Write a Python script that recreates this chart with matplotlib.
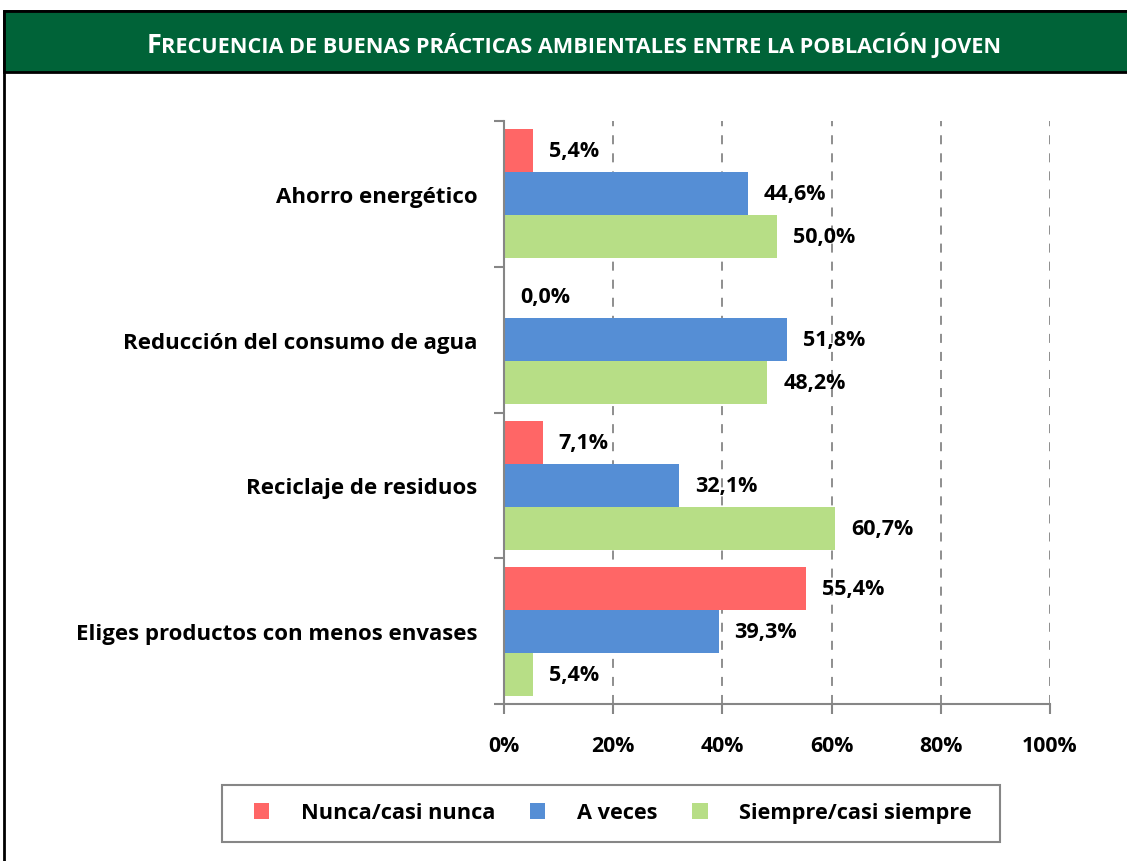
import numpy as np
import matplotlib.pyplot as plt
from matplotlib.patches import Rectangle

plt.rcParams['font.family'] = ['Open Sans', 'DejaVu Sans']

categorias = ["Ahorro energético", "Reducción del consumo de agua",
              "Reciclaje de residuos", "Eliges productos con menos envases"]
nunca = [5.4, 0.0, 7.1, 55.4]
a_veces = [44.6, 51.8, 32.1, 39.3]
siempre = [50.0, 48.2, 60.7, 5.4]
series = ["Nunca/casi nunca", "A veces", "Siempre/casi siempre"]
colores = ["#FF6666", "#558ED5", "#B7DE86"]
xticks = [0, 20, 40, 60, 80, 100]

W, H = 1127, 862
fig = plt.figure(figsize=(W / 100, H / 100), dpi=100)

# marco y banda del titulo
fig.add_artist(Rectangle((4 / W, -0.1), 1.2, 1.1 - 12 / H, transform=fig.transFigure,
                         fill=False, edgecolor="black", linewidth=2))
fig.add_artist(Rectangle((4 / W, 1 - 73 / H), 1.2, 61 / H, transform=fig.transFigure,
                         facecolor="#006338", edgecolor="black", linewidth=2))

ax = fig.add_axes([504 / W, 1 - 705 / H, 546 / W, 583 / H])
y = np.arange(len(categorias))
h = 0.295
for k, (vals, col, lab) in enumerate(zip([nunca, a_veces, siempre], colores, series)):
    pos = y + (k - 1) * h
    ax.barh(pos, vals, height=h, color=col, label=lab, zorder=3)
    for p, v in zip(pos, vals):
        ax.annotate(f"{v:.1f}%".replace(".", ","), (v, p), xytext=(11.5, 0),
                    textcoords="offset points", va="center", ha="left",
                    fontsize=15.5, fontweight="bold", zorder=4)

ax.set_xlim(0, 100)
ax.set_ylim(len(categorias) - 0.5, -0.5)
ax.set_xticks(xticks)
ax.set_xticklabels([f"{t}%" for t in xticks], fontsize=15.3, fontweight="bold")
ax.set_yticks(np.arange(len(categorias) + 1) - 0.5)
ax.set_yticklabels([])
ax.set_yticks(y, minor=True)
ax.set_yticklabels(categorias, minor=True, fontsize=16, fontweight="bold")
ax.tick_params(axis="y", which="minor", length=0, pad=19)
ax.tick_params(axis="y", which="major", length=7, color="#868686", width=1.5)
ax.tick_params(axis="x", length=7, color="#868686", width=1.5, pad=15)
ax.xaxis.grid(True, linestyle=(0, (5, 5)), color="#868686", linewidth=1.3, zorder=0)
for s in ["top", "right"]:
    ax.spines[s].set_visible(False)
for s in ["left", "bottom"]:
    ax.spines[s].set_color("#868686")
    ax.spines[s].set_linewidth(1.5)
    ax.spines[s].set_zorder(5)

# leyenda con marco propio
fig.add_artist(Rectangle((222 / W, 1 - 843 / H), 778 / W, 57 / H, transform=fig.transFigure,
                         fill=False, edgecolor="#868686", linewidth=1.5))
leg = fig.legend(loc="center", bbox_to_anchor=(613 / W, 1 - 814 / H), ncol=3,
                 prop={"weight": "bold", "size": 15.7}, frameon=False,
                 handlelength=0.7, handleheight=0.7, columnspacing=1.6,
                 handletextpad=1.45, borderpad=0, borderaxespad=0)

# titulo en versalitas
fig.canvas.draw()
r = fig.canvas.get_renderer()
t1 = fig.text(0, 1 - 45 / H, "F", fontsize=19.5, fontweight="bold", color="white", va="baseline")
t2 = fig.text(0, 1 - 45 / H, "RECUENCIA DE BUENAS PRÁCTICAS AMBIENTALES ENTRE LA POBLACIÓN JOVEN",
              fontsize=15.6, fontweight="bold", color="white", va="baseline")
w1 = t1.get_window_extent(r).width
w2 = t2.get_window_extent(r).width
x0 = 574 - (w1 + w2) / 2
t1.set_x(x0 / W)
t2.set_x((x0 + w1) / W)
t1.set_y(1 - 53 / H)
t2.set_y(1 - 53 / H)

fig.savefig("out.png", dpi=100)
